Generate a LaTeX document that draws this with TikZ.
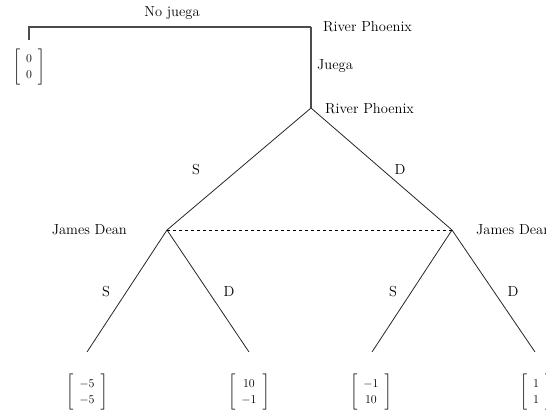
\documentclass[tikz,border=0pt]{standalone}
\usepackage{amsmath}
\newcommand{\payv}[2]{$\left[\hspace{6pt}\begin{matrix}#1\\#2\end{matrix}\hspace{6pt}\right]$}
\begin{document}
\begin{tikzpicture}[x=1pt,y=-1pt,
  lbl/.style={inner sep=1pt,font=\fontsize{14.5}{17}\selectfont},
  pay/.style={inner sep=0pt,font=\fontsize{13}{16}\selectfont},
  edge/.style={line width=0.8pt,black!85},
  topedge/.style={line width=1.2pt,black!70},
  info/.style={dashed,line width=0.8pt}]
\clip (0,0) rectangle (546,412);
\coordinate (n1) at (311,27);
\coordinate (leaf0) at (29,40);
\coordinate (n2) at (311,108);
\coordinate (jl) at (167,230);
\coordinate (jr) at (452,230);
\coordinate (l1) at (87,352);
\coordinate (l2) at (249,352);
\coordinate (l3) at (372,352);
\coordinate (l4) at (535,352);

\draw[topedge] (n1) -| (leaf0);
\draw[topedge] (n1) -- (n2);
\draw[edge] (n2) -- (jl);
\draw[edge] (n2) -- (jr);
\draw[edge] (jl) -- (l1);
\draw[edge] (jl) -- (l2);
\draw[edge] (jr) -- (l3);
\draw[edge] (jr) -- (l4);
\draw[info] (jl) -- (jr);

\node[lbl] (tnj) at (172,13) {No juega};
\node[lbl,anchor=west] (tj) at (316,66) {Juega};
\node[lbl,anchor=west] (rp1) at (322,27) {River Phoenix};
\node[lbl,anchor=west] (rp2) at (324,109) {River Phoenix};
\node[lbl,anchor=east] (jd1) at (128,230) {James Dean};
\node[lbl,anchor=west] (jd2) at (475,230) {James Dean};
\node[lbl] (s1) at (196,170) {S};
\node[lbl] (d1) at (400,170) {D};
\node[lbl] (s2) at (106,292) {S};
\node[lbl] (d2) at (229,292) {D};
\node[lbl] (s3) at (393,292) {S};
\node[lbl] (d3) at (513,292) {D};

\node[pay] (p0) at (29,67) {\payv{0}{0}};
\node[pay] (p1) at (87,392) {\payv{-5}{-5}};
\node[pay] (p2) at (249,392) {\payv{10}{-1}};
\node[pay] (p3) at (371,392) {\payv{-1}{10}};
\node[pay,anchor=west] (p4) at (520,392) {\payv{1}{1}};
\end{tikzpicture}
\end{document}
